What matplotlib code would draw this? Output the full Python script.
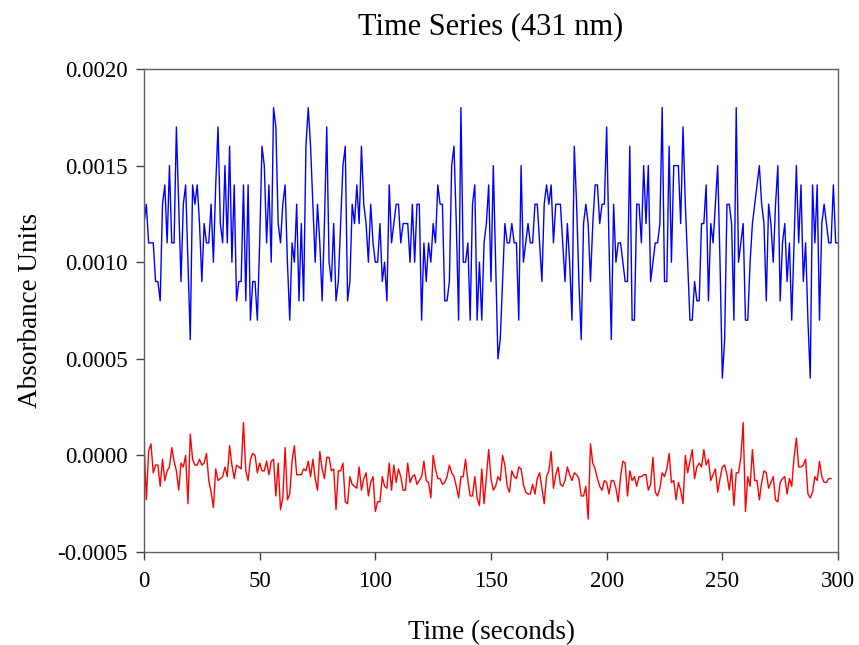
import matplotlib
matplotlib.use("Agg")
import matplotlib.pyplot as plt
import numpy as np
from matplotlib.ticker import FuncFormatter

# Blue series (units of 1e-4 absorbance), t = 0..300 s
blue_e4 = [12, 13, 11, 11, 11, 9, 9, 8, 13, 14, 11, 15, 11, 11, 17, 13, 9, 13, 14, 10,
           6, 14, 13, 14, 12, 9, 12, 11, 11, 13, 10, 14, 17, 12, 11, 15, 11, 16, 10, 14,
           8, 9, 9, 14, 8, 14, 7, 9, 9, 7, 11, 16, 15, 11, 14, 10, 18, 17, 12, 11,
           13, 14, 10, 7, 11, 10, 13, 8, 12, 8, 16, 18, 16, 13, 10, 13, 11, 8, 12, 17,
           10, 9, 12, 8, 9, 12, 15, 16, 8, 9, 13, 12, 14, 12, 16, 13, 12, 10, 13, 11,
           10, 10, 12, 9, 10, 8, 14, 11, 12, 13, 13, 11, 12, 12, 12, 10, 13, 10, 13, 13,
           7, 11, 9, 11, 10, 12, 11, 14, 13, 13, 8, 8, 9, 15, 16, 12, 7, 18, 10, 10,
           11, 7, 13, 14, 7, 10, 7, 11, 12, 14, 9, 15, 10, 5, 6, 9, 12, 11, 11, 12,
           11, 11, 7, 15, 10, 11, 12, 11, 11, 13, 13, 11, 9, 13, 14, 13, 14, 11, 13, 13,
           13, 11, 9, 12, 10, 7, 16, 13, 9, 6, 12, 13, 12, 9, 12, 14, 14, 12, 13, 13,
           17, 11, 6, 13, 10, 11, 11, 10, 9, 9, 16, 7, 7, 13, 13, 11, 15, 12, 15, 9,
           10, 11, 11, 12, 18, 9, 9, 16, 10, 15, 15, 15, 12, 17, 13, 10, 7, 7, 9, 8,
           8, 12, 12, 14, 8, 12, 11, 13, 15, 10, 4, 6, 13, 13, 12, 7, 18, 10, 11, 12,
           7, 7, 10, 12, 13, 14, 15, 13, 12, 8, 13, 12, 10, 13, 15, 8, 11, 12, 9, 11,
           7, 11, 15, 11, 14, 9, 11, 7, 4, 14, 11, 14, 7, 12, 13, 12, 11, 11, 14, 11,
           11]

# Red series (units of 1e-5 absorbance), t = 0..297 s
red_e5 = [8, -23, 2, 6, -9, -5, -5, -16, -2, -13, -8, -6, 4, -3, -8, -18, -4, -6, 0, -25,
          11, -2, -5, -5, -2, -5, -4, 1, -13, -19, -27, -7, -13, -12, -11, -6, -11, 5, -5, -12,
          -5, -6, -7, 17, -8, -13, -2, 1, 0, -9, -4, -8, -8, -3, -10, -3, -2, -21, -4, -28,
          -22, 4, -23, -20, -3, 5, -10, -10, -10, -7, -8, -3, -11, -2, -12, -18, 2, -7, -12, -1,
          -1, -8, -7, -28, -8, -8, -4, -24, -25, -11, -15, -16, -17, -6, -18, -12, -9, -21, -14, -11,
          -29, -24, -24, -11, -16, -17, -4, -18, -5, -14, -7, -11, -18, -18, -4, -14, -11, -10, -15, -13,
          -11, -3, -13, -14, -22, 0, -7, -12, -12, -15, -14, -11, -5, -9, -11, -16, -22, -11, -11, -2,
          -13, -21, -21, -11, -22, -26, -7, -25, -11, 3, -12, -18, -16, -11, -13, 0, -5, -16, -19, -8,
          -11, -12, -6, -7, -15, -19, -20, -20, -15, -20, -12, -9, -17, -25, -11, -8, 2, -17, -10, -6,
          -15, -16, -13, -6, -10, -13, -9, -10, -12, -21, -21, -16, -33, 6, -4, -7, -12, -16, -18, -13,
          -14, -20, -13, -13, -17, -24, -11, -3, -4, -21, -8, -13, -11, -16, -11, -11, -10, -10, -18, -15,
          -1, -19, -21, -17, -9, -11, -7, 1, -14, -13, -23, -14, -18, -25, 0, -9, -3, 3, -12, -6,
          -4, -6, 3, -5, -2, -13, -10, -7, -19, -12, -6, -5, -10, -18, -7, -26, -9, -9, -1, 17,
          -29, -11, -16, 3, -13, -13, -23, -14, -8, -9, -17, -14, -11, -23, -24, -14, -12, -11, -20, -12,
          -16, -1, 9, -6, -6, -5, -2, -20, -22, -19, -11, -13, -3, -11, -14, -14, -12, -12]

x_ticks = [0, 50, 100, 150, 200, 250, 300]
y_ticks = [-0.0005, 0.0, 0.0005, 0.0010, 0.0015, 0.0020]

title = "Time Series (431 nm)"
xlabel = "Time (seconds)"
ylabel = "Absorbance Units"

plt.rcParams['font.family'] = ['Liberation Serif', 'DejaVu Serif']
plt.rcParams['axes.unicode_minus'] = False

blue = np.array(blue_e4) * 1e-4
red = np.array(red_e5) * 1e-5
t_blue = np.arange(len(blue))
t_red = np.arange(len(red))

fig = plt.figure(figsize=(8.59, 6.45), dpi=100)
ax = fig.add_axes([144/859, 1-552/645, (838-144)/859, (552-69)/645])

ax.plot(t_blue, blue, color='#0000ff', lw=1.0)
ax.plot(t_red, red, color='#ff0000', lw=1.0)

ax.set_xlim(0, 300)
ax.set_ylim(-0.0005, 0.0020)
ax.set_xticks(x_ticks)
ax.set_yticks(y_ticks)
ax.yaxis.set_major_formatter(FuncFormatter(lambda v, p: "%.4f" % v if abs(v) > 1e-12 else "0.0000"))

for s in ax.spines.values():
    s.set_color('#606060')
    s.set_linewidth(1.0)
ax.tick_params(direction='out', length=6, width=1.0, color='#404040',
               labelsize=16.5, pad=6)
ax.tick_params(axis='x', pad=8)

ax.set_title(title, fontsize=22, pad=25)
ax.set_xlabel(xlabel, fontsize=19.5, labelpad=20)
ax.set_ylabel(ylabel, fontsize=19.5, labelpad=10)

fig.savefig("out.png", dpi=100)
